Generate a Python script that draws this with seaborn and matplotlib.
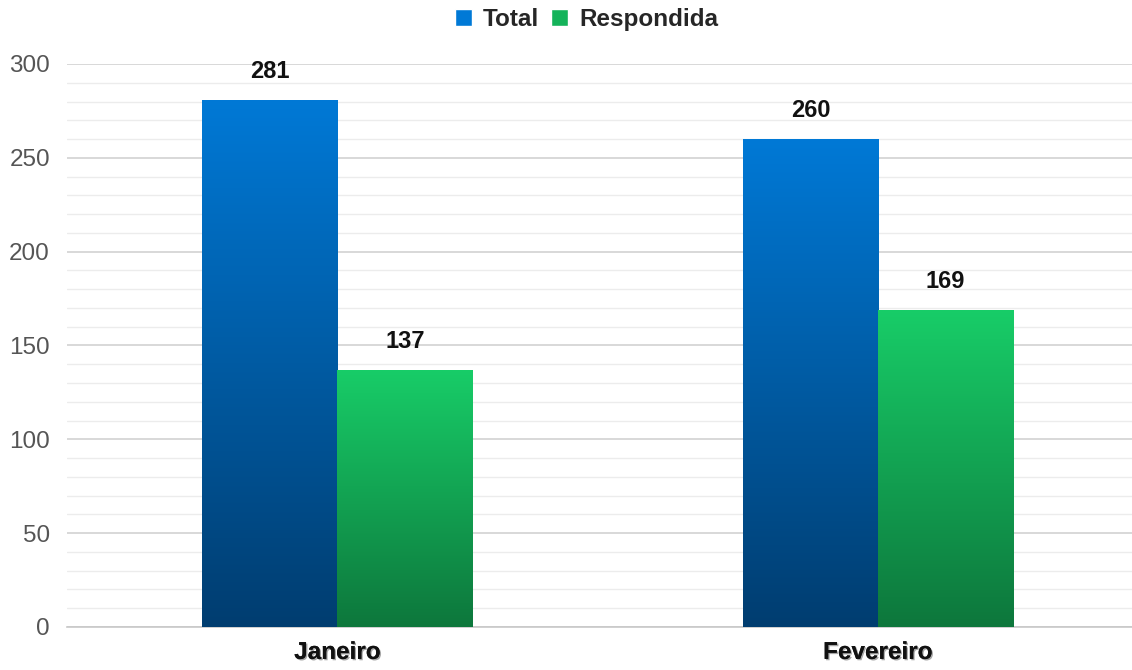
import numpy as np
import pandas as pd
import matplotlib
matplotlib.use("Agg")
import matplotlib.pyplot as plt
import seaborn as sns
from matplotlib.colors import LinearSegmentedColormap
from matplotlib.patches import Patch
import matplotlib.patheffects as pe

months = ["Janeiro", "Fevereiro"]
series = ["Total", "Respondida"]
total = [281, 260]
respondida = [137, 169]
yticks = [0, 50, 100, 150, 200, 250, 300]

top_colors = {"Total": "#0079d6", "Respondida": "#18cd68"}
bot_colors = {"Total": "#003d70", "Respondida": "#0d773c"}

df = pd.DataFrame({
    "Mês": months * 2,
    "Série": ["Total"] * 2 + ["Respondida"] * 2,
    "Valor": total + respondida,
})

sns.set_theme(style="white")
plt.rcParams["font.family"] = ["Liberation Sans", "DejaVu Sans"]

fig = plt.figure(figsize=(11.32, 6.70), dpi=100)
ax = fig.add_axes([0.0594, 0.0642, 0.9549, 0.8403])

sns.barplot(data=df, x="Mês", y="Valor", hue="Série", order=months,
            hue_order=series, palette=top_colors, width=0.5,
            linewidth=0, ax=ax, legend=False, zorder=3)

ax.set_ylim(0, 300)
ax.set_xlim(-0.5, 1.5)

# gradient fill
for container, s in zip(ax.containers, series):
    cmap = LinearSegmentedColormap.from_list(s, [bot_colors[s], top_colors[s]])
    for bar, val in zip(container, container.datavalues):
        x0, w = bar.get_x(), bar.get_width()
        h = bar.get_height()
        grad = np.linspace(0, 1, 256).reshape(-1, 1)
        im = ax.imshow(grad, cmap=cmap, origin="lower", aspect="auto",
                       extent=[x0, x0 + w, 0, h], zorder=3)
        im.set_clip_path(bar)
        bar.set_alpha(0)
        ax.text(x0 + w / 2, h + 9, f"{int(val)}", ha="center", va="bottom",
                fontsize=17, fontweight="bold", color="#111111", zorder=5)

# grid
ax.set_yticks(yticks)
ax.set_yticks(np.arange(0, 301, 10), minor=True)
ax.grid(axis="y", which="major", color="#d2d2d2", linewidth=1.2, zorder=0)
ax.grid(axis="y", which="minor", color="#ececec", linewidth=1.0, zorder=0)
ax.tick_params(axis="y", which="both", length=0, labelsize=17.5, labelcolor="#555555", pad=12.5)
ax.tick_params(axis="x", length=0, pad=10)
ax.set_xticks(range(len(months)))
ax.set_xticklabels(months, fontsize=17.5, fontweight="bold", color="#111111")
for lbl in ax.get_xticklabels():
    lbl.set_path_effects([pe.withSimplePatchShadow(offset=(1, -1), alpha=0.35), pe.Normal()])
ax.set_xlabel("")
ax.set_ylabel("")
for side in ["top", "right", "left"]:
    ax.spines[side].set_visible(False)
ax.spines["bottom"].set_color("#c8c8c8")
ax.spines["bottom"].set_linewidth(1.2)

handles = [Patch(facecolor=top_colors["Total"], label="Total"),
           Patch(facecolor="#14b35a", label="Respondida")]
leg = fig.legend(handles=handles, loc="upper center", bbox_to_anchor=(0.518, 1.021),
                 ncol=2, frameon=False, handlelength=0.7, handleheight=0.7,
                 handletextpad=0.45, columnspacing=0.5,
                 prop={"size": 17.5, "weight": "bold"})

fig.savefig("out.png", dpi=100)
